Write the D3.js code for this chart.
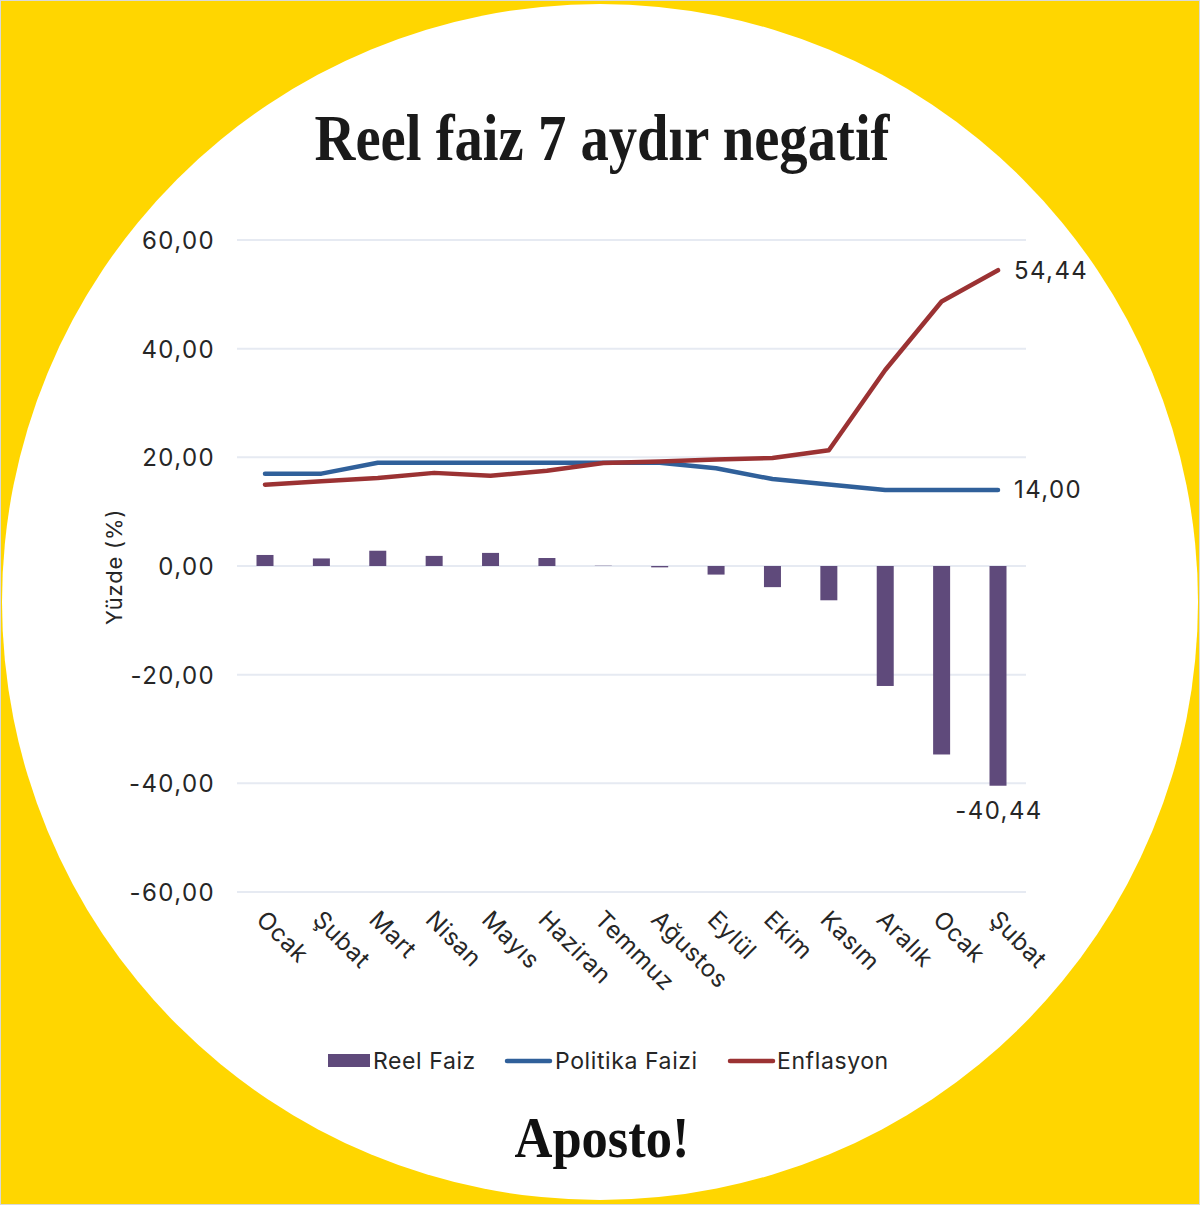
<!DOCTYPE html>
<html><head><meta charset="utf-8">
<script src="https://cdn.jsdelivr.net/npm/d3@7"></script>
<style>html,body{margin:0;padding:0;background:#fff;}svg{display:block;}</style>
</head><body>
<script>
const categories = ["Ocak","Şubat","Mart","Nisan","Mayıs","Haziran","Temmuz","Ağustos","Eylül","Ekim","Kasım","Aralık","Ocak","Şubat"];
const reelFaiz = [2.03,1.39,2.81,1.86,2.41,1.47,0.05,-0.25,-1.58,-3.89,-6.31,-22.08,-34.69,-40.44];
const politikaFaizi = [17,17,19,19,19,19,19,19,18,16,15,14,14,14];
const enflasyon = [14.97,15.61,16.19,17.14,16.59,17.53,18.95,19.25,19.58,19.89,21.31,36.08,48.69,54.44];
const yTicks = [-60,-40,-20,0,20,40,60];
const seriesNames = ["Reel Faiz","Politika Faizi","Enflasyon"];

const W = 1200, H = 1205;
const C = {bar:"#5f4a7b", blue:"#30609a", red:"#9b3233", grid:"#e6eaf2", text:"#262626"};
const SANS = "Inter, Liberation Sans, Arial, sans-serif";
const svg = d3.select("body").append("svg").attr("width",W).attr("height",H);

svg.append("rect").attr("x",0.5).attr("y",0.5).attr("width",W-1).attr("height",H-1)
  .attr("fill","#FFD600").attr("stroke","#d9d9d9").attr("stroke-width",1);
svg.append("circle").attr("cx",600).attr("cy",602).attr("r",598).attr("fill","#fff");

svg.append("text").attr("x",602).attr("y",160).attr("text-anchor","middle")
  .attr("font-family","Liberation Serif, serif").attr("font-weight","bold")
  .attr("font-size",66).attr("textLength",575).attr("lengthAdjust","spacingAndGlyphs")
  .attr("fill","#1a1a1a").text("Reel faiz 7 aydır negatif");

const xl = d3.scalePoint().domain(d3.range(categories.length)).range([265,998]);
const y = d3.scaleLinear().domain([-60,60]).range([892,240]);

const g = svg.append("g");
g.selectAll(".grid").data(yTicks).join("line")
  .attr("x1",237).attr("x2",1026).attr("y1",d=>y(d)).attr("y2",d=>y(d))
  .attr("stroke",C.grid).attr("stroke-width",2);

const fmt = v => d3.format(".2f")(v).replace(".",",").replace("−","-");
const yAxis = d3.axisLeft(y).tickValues(yTicks).tickFormat(fmt).tickSize(0).tickPadding(0);
const ya = svg.append("g").attr("transform","translate(215,0)").call(yAxis);
ya.select(".domain").remove();
ya.selectAll("text").attr("font-family",SANS).attr("font-size",24)
  .attr("letter-spacing","1.4px").attr("fill",C.text).attr("dy","0.35em");

svg.append("text").attr("transform","translate(122,567) rotate(-90)").attr("text-anchor","middle")
  .attr("font-family",SANS).attr("font-size",22).attr("letter-spacing","0.8px")
  .attr("fill",C.text).text("Yüzde (%)");

// bars
g.selectAll(".bar").data(reelFaiz).join("rect")
  .attr("x",(d,i)=>xl(i)-8.5).attr("width",17)
  .attr("y",d=>y(Math.max(0,d))).attr("height",d=>Math.abs(y(d)-y(0)))
  .attr("fill",C.bar);

const line = d3.line().x((d,i)=>xl(i)).y(d=>y(d));
g.append("path").datum(politikaFaizi).attr("d",line).attr("fill","none")
  .attr("stroke",C.blue).attr("stroke-width",4.5).attr("stroke-linecap","round").attr("stroke-linejoin","round");
g.append("path").datum(enflasyon).attr("d",line).attr("fill","none")
  .attr("stroke",C.red).attr("stroke-width",4.5).attr("stroke-linecap","round").attr("stroke-linejoin","round");

// x labels
const xa = svg.append("g").attr("transform","translate(0,915)");
xa.selectAll("text").data(categories).join("text")
  .attr("transform",(d,i)=>`translate(${xl(i)-4},0) rotate(45)`)
  .attr("dy","0.35em").attr("text-anchor","start")
  .attr("font-family",SANS).attr("font-size",24).attr("letter-spacing","0.6px")
  .attr("fill",C.text).text(d=>d);

// end labels
const n = categories.length-1;
const lab = (xx,yy,t,anchor) => svg.append("text").attr("x",xx).attr("y",yy).attr("dy","0.35em")
  .attr("text-anchor",anchor).attr("font-family",SANS).attr("font-size",24)
  .attr("letter-spacing","1.4px").attr("fill",C.text).text(t);
lab(xl(n)+16, y(enflasyon[n]), fmt(enflasyon[n]), "start");
lab(xl(n)+16, y(politikaFaizi[n]), fmt(politikaFaizi[n]), "start");
lab(xl(n)+1, y(reelFaiz[n])+25, fmt(reelFaiz[n]), "middle");

// legend
const lg = svg.append("g");
const legText = (xx,t) => lg.append("text").attr("x",xx).attr("y",1061).attr("dy","0.35em")
  .attr("font-family",SANS).attr("font-size",23).attr("letter-spacing","0.6px").attr("fill",C.text).text(t);
lg.append("rect").attr("x",328).attr("y",1054).attr("width",42).attr("height",13).attr("fill",C.bar);
legText(373, seriesNames[0]);
lg.append("line").attr("x1",507).attr("x2",550).attr("y1",1061).attr("y2",1061).attr("stroke",C.blue).attr("stroke-width",4.5).attr("stroke-linecap","round");
legText(555, seriesNames[1]);
lg.append("line").attr("x1",730).attr("x2",773).attr("y1",1061).attr("y2",1061).attr("stroke",C.red).attr("stroke-width",4.5).attr("stroke-linecap","round");
legText(777, seriesNames[2]);

svg.append("text").attr("x",602).attr("y",1157).attr("text-anchor","middle")
  .attr("font-family","Liberation Serif, serif").attr("font-weight","bold")
  .attr("font-size",58).attr("textLength",175).attr("lengthAdjust","spacingAndGlyphs")
  .attr("fill","#111").text("Aposto!");
</script>
</body></html>
